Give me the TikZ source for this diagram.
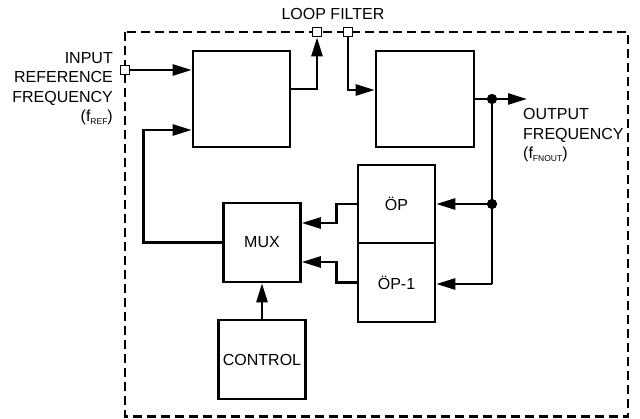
\documentclass[tikz,border=0pt]{standalone}
\usepackage{fontspec}
\setmainfont{Liberation Sans}
\usetikzlibrary{arrows.meta}
\begin{document}
\begin{tikzpicture}[x=1pt,y=-1pt,
  blk/.style={draw,line width=2.6pt,fill=white,inner sep=0pt},
  arr/.style={line width=2.6pt,-{Triangle[length=19pt,width=11pt]}},
  wire/.style={line width=2.6pt},
  port/.style={draw,line width=1.8pt,fill=white,minimum size=9pt,inner sep=0pt},
  dotn/.style={circle,fill=black,minimum size=10pt,inner sep=0pt},
  txt/.style={font=\fontsize{16}{19.5}\selectfont,inner sep=0pt},
  every node/.style={font=\fontsize{16}{19.5}\selectfont}]
\useasboundingbox (0,0) rectangle (640,419);
% dashed border
\draw[line width=2.6pt,dash pattern=on 9pt off 5pt] (125,32) rectangle (628,416.5);
% blocks
\node[blk,minimum width=97pt,minimum height=96pt] (pfd) at (241.5,99) {};
\node[blk,minimum width=98pt,minimum height=96pt] (vco) at (425,99) {};
\node[blk,minimum width=77pt,minimum height=78pt] (op) at (396.5,204) {ÖP};
\node[blk,minimum width=77pt,minimum height=79pt] (op1) at (396.5,282.5) {ÖP-1};
\node[blk,minimum width=77pt,minimum height=79pt] (mux) at (262,242.5) {MUX};
\node[blk,minimum width=87pt,minimum height=79pt] (ctrl) at (262,359.5) {CONTROL};
% ports
\node[port] (in) at (125,70) {};
\node[port] (lf1) at (317,32) {};
\node[port] (lf2) at (348,32) {};
% junctions
\node[dotn] (d1) at (492,99) {};
\node[dotn] (d2) at (492,204) {};
\coordinate (d3) at (492,284);
\coordinate (outend) at (527,99);
% texts
\node[txt] (lft) at (333,14) {LOOP FILTER};
\node[txt,anchor=north east,align=right] (intxt) at (113,52) {INPUT\\REFERENCE\\FREQUENCY\\(f\raisebox{-3pt}{\fontsize{8.5}{8.5}\selectfont REF})};
\node[txt,anchor=north west,align=left] (outtxt) at (523,108.5) {OUTPUT\\FREQUENCY\\(f\raisebox{-3pt}{\fontsize{8.5}{8.5}\selectfont FNOUT})};
% connectors
\draw[arr] (in.east) -- (pfd.west |- in);
\draw[arr] ([yshift=10pt]pfd.east) -| (lf1.south);
\draw[arr] (lf2.south) |- ([yshift=9pt]vco.west);
\draw[arr] (vco.east) -- (outend);
\draw[wire] (d1.center) -- (d3);
\draw[arr] (d2.center) -- (op.east);
\draw[arr] (d3) -- (op1.east |- d3);
\draw[arr] (op.west) -- ++(-20,0) |- ([yshift=19.5pt]mux.east);
\draw[arr] (op1.west) -- ++(-20,0) |- ([yshift=-19.5pt]mux.east);
\draw[arr] (ctrl.north) -- (mux.south);
\draw[arr] (mux.west) -- ++(-79,0) |- ([yshift=-31pt]pfd.west);
\node[dotn] at (d1) {};
\node[dotn] at (d2) {};
\node[port] at (in) {};
\node[port] at (lf1) {};
\node[port] at (lf2) {};
\end{tikzpicture}
\end{document}
